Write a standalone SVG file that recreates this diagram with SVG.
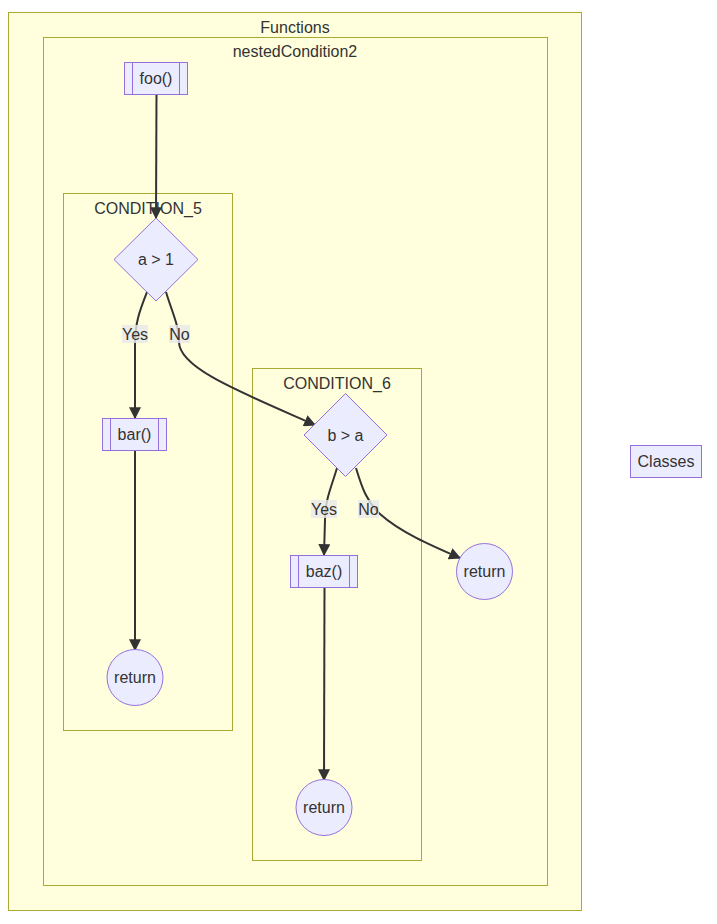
<svg xmlns="http://www.w3.org/2000/svg" width="717" height="924" viewBox="0 0 717 924">
<defs>
<style>
.cluster{fill:#ffffde;stroke:#aaaa33;stroke-width:1}
.node{fill:#ECECFF;stroke:#9370DB;stroke-width:1}
.t{font-family:"Liberation Sans",Arial,sans-serif;font-size:16px;fill:#333;text-anchor:middle;dominant-baseline:central}
.edge{fill:none;stroke:#333;stroke-width:2}
.lbl{fill:#e8e8e8;opacity:0.8}
</style>
<marker id="arrow" viewBox="0 0 10 10" refX="9" refY="5" markerUnits="userSpaceOnUse" markerWidth="12" markerHeight="12" orient="auto">
<path d="M0,0 L10,5 L0,10 z" fill="#333"/>
</marker>
</defs>
<rect width="717" height="924" fill="#ffffff"/>
<g id="Functions">
<rect class="cluster" x="8.5" y="12.5" width="573" height="898"/>
<text class="t" x="295" y="27">Functions</text>
</g>
<g id="nestedCondition2">
<rect class="cluster" x="43.5" y="37.5" width="504" height="848"/>
<text class="t" x="295" y="51">nestedCondition2</text>
</g>
<g id="CONDITION_5">
<rect class="cluster" x="63.5" y="193.5" width="169" height="537"/>
<text class="t" x="148" y="208">CONDITION_5</text>
</g>
<g id="CONDITION_6">
<rect class="cluster" x="252.5" y="368.5" width="169" height="492"/>
<text class="t" x="337" y="383">CONDITION_6</text>
</g>
<g id="connectors">
<path class="edge" d="M156.5,95 L156,218" marker-end="url(#arrow)"/>
<path class="edge" d="M147,292 C140,310 135,322 135,345 L135,418" marker-end="url(#arrow)"/>
<path class="edge" d="M166,292 C172,312 179,325 179,342 C179,368 240,392 315,425" marker-end="url(#arrow)"/>
<path class="edge" d="M135,451 L135,650" marker-end="url(#arrow)"/>
<path class="edge" d="M337,468 C331,488 325,500 325,520 L324,555" marker-end="url(#arrow)"/>
<path class="edge" d="M356,468 C362,488 367,502 380,514 C400,532 430,545 460,558" marker-end="url(#arrow)"/>
<path class="edge" d="M324.5,588 L324,780" marker-end="url(#arrow)"/>
<rect class="lbl" x="122" y="325" width="26" height="18"/>
<text class="t" x="135" y="334">Yes</text>
<rect class="lbl" x="169" y="325" width="21" height="18"/>
<text class="t" x="179.5" y="334">No</text>
<rect class="lbl" x="311" y="500" width="26" height="18"/>
<text class="t" x="324" y="509">Yes</text>
<rect class="lbl" x="358" y="500" width="21" height="18"/>
<text class="t" x="368.5" y="509">No</text>
</g>
<g id="foo">
<rect class="node" x="124.5" y="62.5" width="63" height="32"/>
<line class="node" x1="132.5" y1="62.5" x2="132.5" y2="94.5"/>
<line class="node" x1="179.5" y1="62.5" x2="179.5" y2="94.5"/>
<text class="t" x="156" y="78.5">foo()</text>
</g>
<g id="cond5">
<polygon class="node" points="156,218 198,259.5 156,301 114,259.5"/>
<text class="t" x="156" y="259.5">a &gt; 1</text>
</g>
<g id="bar">
<rect class="node" x="102.5" y="418.5" width="64" height="32"/>
<line class="node" x1="110.5" y1="418.5" x2="110.5" y2="450.5"/>
<line class="node" x1="158.5" y1="418.5" x2="158.5" y2="450.5"/>
<text class="t" x="134.5" y="434.5">bar()</text>
</g>
<g id="return1">
<circle class="node" cx="135" cy="677.5" r="28"/>
<text class="t" x="135" y="677.5">return</text>
</g>
<g id="cond6">
<polygon class="node" points="345.5,393.5 387,435 345.5,476.5 304,435"/>
<text class="t" x="345.5" y="435">b &gt; a</text>
</g>
<g id="baz">
<rect class="node" x="290.5" y="555.5" width="67" height="32"/>
<line class="node" x1="298.5" y1="555.5" x2="298.5" y2="587.5"/>
<line class="node" x1="349.5" y1="555.5" x2="349.5" y2="587.5"/>
<text class="t" x="324" y="571.5">baz()</text>
</g>
<g id="return2">
<circle class="node" cx="484.5" cy="571.5" r="28"/>
<text class="t" x="484.5" y="571.5">return</text>
</g>
<g id="return3">
<circle class="node" cx="324" cy="807.5" r="28"/>
<text class="t" x="324" y="807.5">return</text>
</g>
<g id="Classes">
<rect class="node" x="630.5" y="445.5" width="71" height="32"/>
<text class="t" x="666" y="461">Classes</text>
</g>
</svg>
